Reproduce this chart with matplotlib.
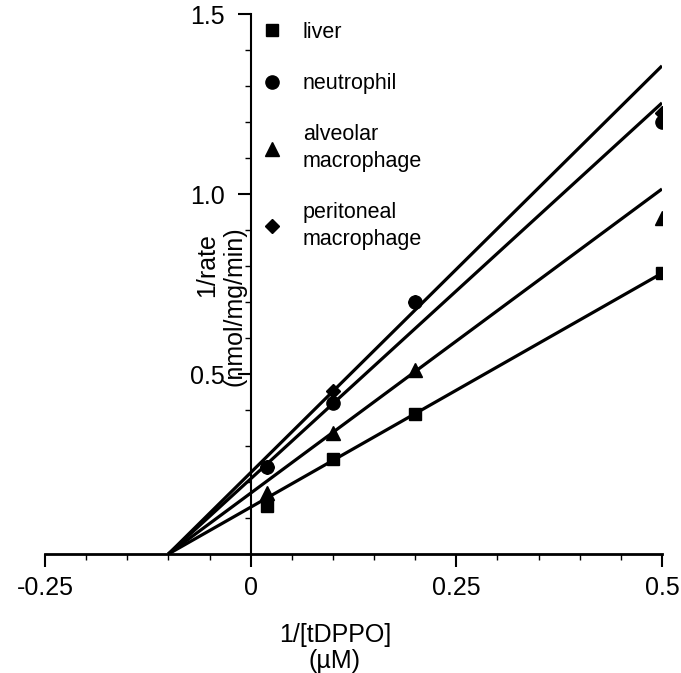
import matplotlib
matplotlib.use("Agg")
import matplotlib.pyplot as plt
from matplotlib.ticker import MultipleLocator, FixedFormatter, FixedLocator

plt.rcParams['font.family'] = ['Liberation Sans', 'DejaVu Sans']

# data
conc_inv = [0.02, 0.1, 0.2, 0.5]
liver = [0.133, 0.264, 0.39, 0.78]
neutrophil = [0.242, 0.42, 0.70, 1.20]
alveolar = [0.169, 0.336, 0.51, 0.933]
peritoneal = [0.242, 0.452, 0.70, 1.225]

# fitted lines: (x intercept, value at x = 0.5)
fit_x0 = [-0.1, -0.1, -0.1, -0.1]
fit_end_x = 0.5
fit_liver = 0.78
fit_neutrophil = 1.253
fit_alveolar = 1.014
fit_peritoneal = 1.356

labels = ["liver", "neutrophil", "alveolar\nmacrophage", "peritoneal\nmacrophage"]
xticks = [-0.25, 0, 0.25, 0.5]
xticklabels = ["-0.25", "0", "0.25", "0.5"]
yticks = [0.5, 1.0, 1.5]
yticklabels = ["0.5", "1.0", "1.5"]

W, H = 681, 673
fig = plt.figure(figsize=(W / 100, H / 100), dpi=100)
ax = fig.add_axes([45 / W, 1 - 554 / H, 617 / W, 540 / H])

# lines
for x0, yend in zip(fit_x0, [fit_peritoneal, fit_neutrophil, fit_alveolar, fit_liver]):
    ax.plot([x0, fit_end_x], [0, yend], color='black', lw=2.3, solid_capstyle='butt', zorder=2)

# points (diamonds first so circles sit on top)
ax.plot(conc_inv, peritoneal, 'D', color='black', ms=7.5, ls='none', label=labels[3], zorder=3)
ax.plot(conc_inv, neutrophil, 'o', color='black', ms=9.5, ls='none', label=labels[1], zorder=4)
ax.plot(conc_inv, alveolar, '^', color='black', ms=10, ls='none', label=labels[2], zorder=4)
ax.plot(conc_inv, liver, 's', color='black', ms=9, ls='none', label=labels[0], zorder=4)

ax.set_xlim(-0.25, 0.5)
ax.set_ylim(0, 1.5)

for s in ['top', 'right']:
    ax.spines[s].set_visible(False)
ax.spines['left'].set_position(('data', 0))
ax.spines['left'].set_linewidth(1.5)
ax.spines['bottom'].set_linewidth(2.0)

ax.xaxis.set_major_locator(FixedLocator(xticks))
ax.xaxis.set_major_formatter(FixedFormatter(xticklabels))
ax.xaxis.set_minor_locator(MultipleLocator(0.05))
ax.yaxis.set_major_locator(FixedLocator(yticks))
ax.yaxis.set_major_formatter(FixedFormatter(yticklabels))
ax.yaxis.set_minor_locator(MultipleLocator(0.1))

ax.tick_params(which='major', direction='out', length=9.5, width=1.5, labelsize=18)
ax.tick_params(axis='x', which='major', pad=6)
ax.tick_params(axis='y', which='major', pad=9)
ax.tick_params(which='minor', direction='out', length=4, width=1.0)

# axis labels
fig.text(335 / W, 1 - 648 / H, "1/[tDPPO]\n(\u00b5M)", ha='center', va='center',
         fontsize=18, linespacing=1.15)
fig.text(207 / W, 1 - 265 / H, "1/rate", ha='center', va='center',
         rotation=90, fontsize=18)
fig.text(234 / W, 1 - 306 / H, "(nmol/mg/min)", ha='center', va='center',
         rotation=90, fontsize=18)

# legend in the order of the reference
h, l = ax.get_legend_handles_labels()
hmap = dict(zip(l, h))
leg = ax.legend([hmap[t] for t in labels], labels, loc='upper left',
                bbox_to_anchor=(261 / W, 1 - 22 / H), bbox_transform=fig.transFigure,
                frameon=False, fontsize=15.5, handlelength=1.0, handletextpad=0.95,
                labelspacing=1.4, borderpad=0, borderaxespad=0, numpoints=1)
for t in leg.get_texts():
    t.set_linespacing(1.35)

fig.savefig("out.png", dpi=100)
